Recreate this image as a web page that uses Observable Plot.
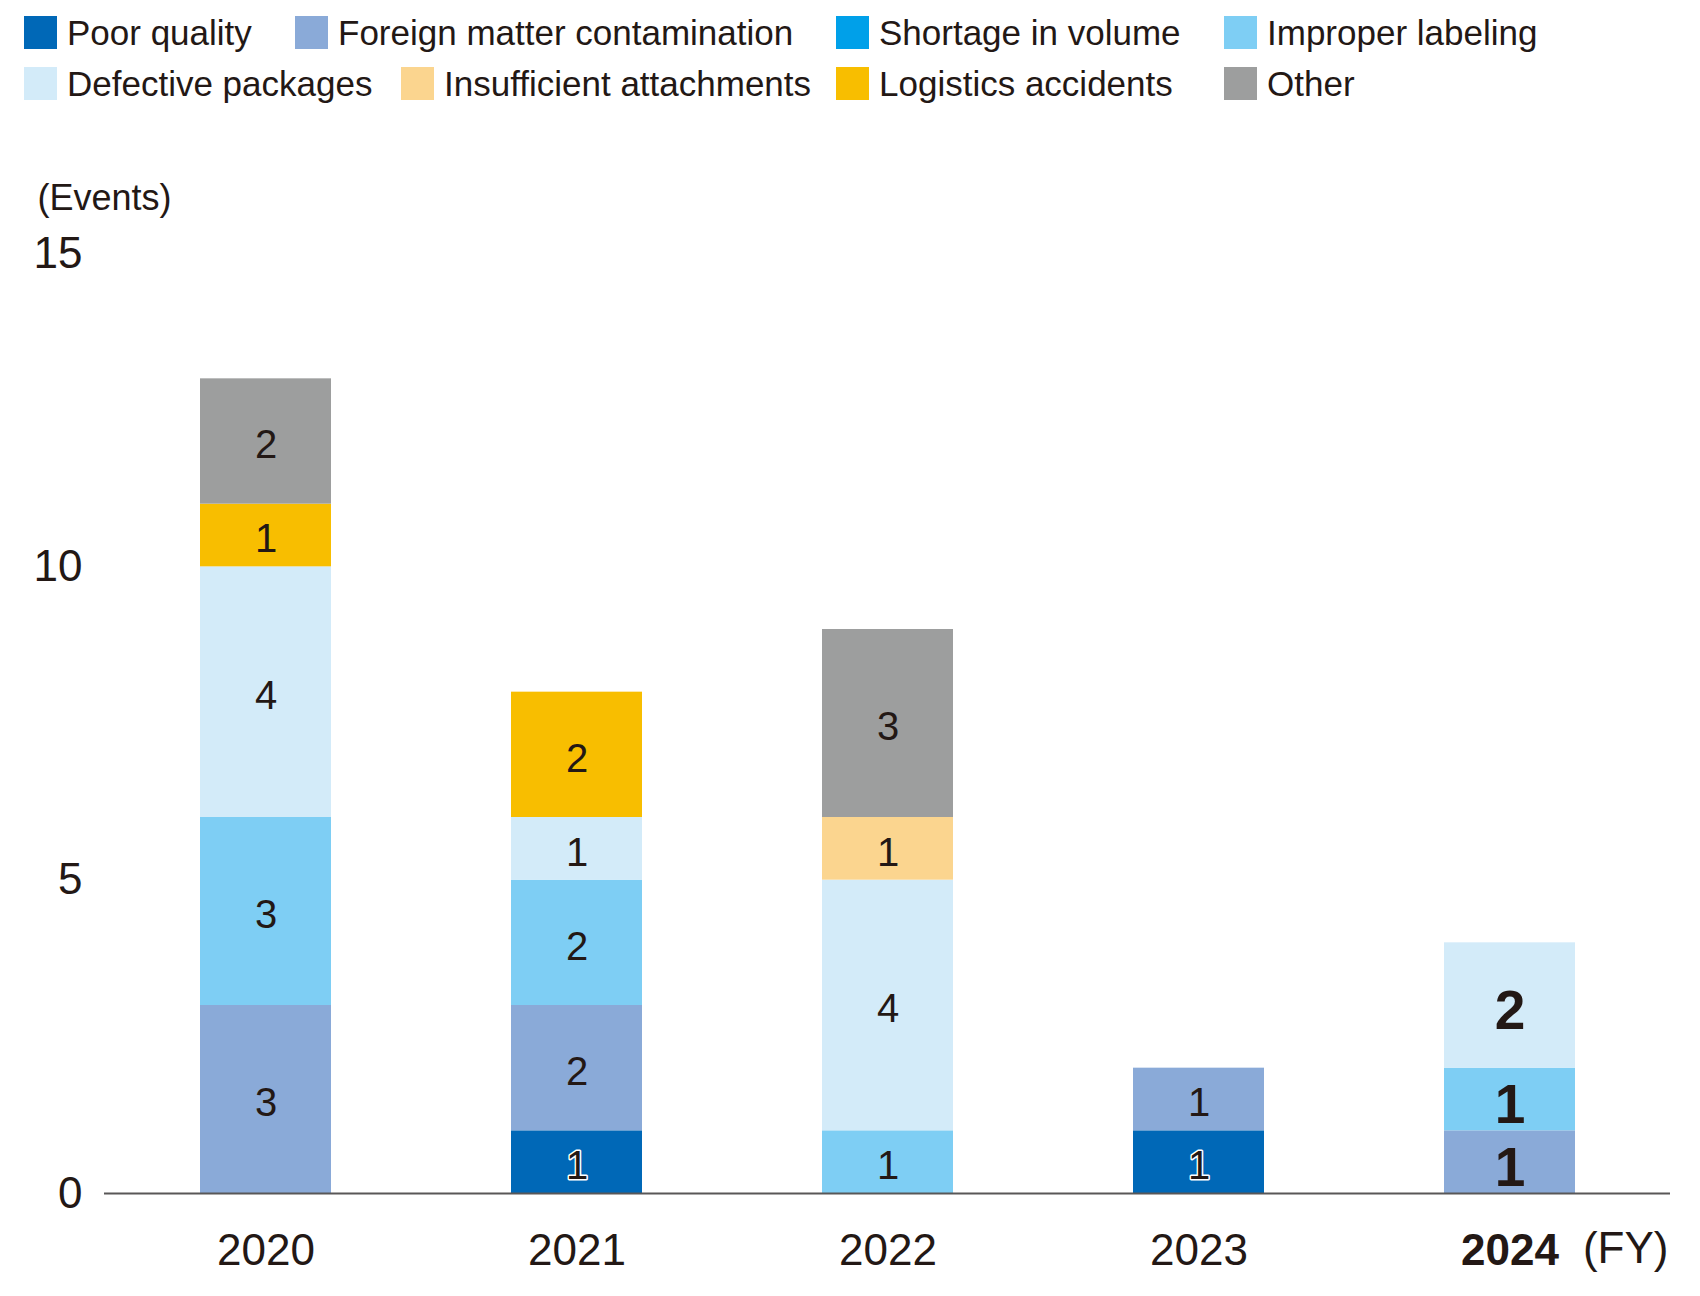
<!DOCTYPE html>
<html>
<head>
<meta charset="utf-8">
<script src="https://cdn.jsdelivr.net/npm/d3@7"></script>
<script src="https://cdn.jsdelivr.net/npm/@observablehq/plot@0.6"></script>
<style>
  html, body { margin: 0; padding: 0; background: #fff; }
  body { width: 1700px; height: 1296px; position: relative; overflow: hidden;
         font-family: "Liberation Sans", Arial, Helvetica, sans-serif; color: #231815; }
  #legend { position: absolute; left: 0; top: 0; width: 1700px; height: 110px; }
  .item { position: absolute; display: flex; align-items: center; height: 33px; white-space: nowrap; }
  .sw { width: 33px; height: 33px; margin-right: 10px; flex: none; }
  .lab { font-size: 35px; line-height: 33px; }
  #chart { position: absolute; left: 0; top: 120px; }
</style>
</head>
<body>
<div id="legend"></div>
<div id="chart"></div>
<script>
// ---- data ----
const years = ["2020", "2021", "2022", "2023", "2024"];
const categories = [
  "Poor quality",
  "Foreign matter contamination",
  "Shortage in volume",
  "Improper labeling",
  "Defective packages",
  "Insufficient attachments",
  "Logistics accidents",
  "Other"
];
const poorQuality             = [0, 1, 0, 1, 0];
const foreignMatter           = [3, 2, 0, 1, 1];
const shortageInVolume        = [0, 0, 0, 0, 0];
const improperLabeling        = [3, 2, 1, 0, 1];
const defectivePackages       = [4, 1, 4, 0, 2];
const insufficientAttachments = [0, 0, 1, 0, 0];
const logisticsAccidents      = [1, 2, 0, 0, 0];
const other                   = [2, 0, 3, 0, 0];
const yTicks = [0, 5, 10, 15];
const highlightYear = "2024";

// ---- styling ----
const colors = ["#0068b7", "#8aaad8", "#00a0e9", "#7ecef4", "#d3ebf9", "#fbd58f", "#f8be00", "#9d9e9e"];
// legend layout: [row, left px] per category
const legendLayout = [[0, 24], [0, 295], [0, 836], [0, 1224], [1, 24], [1, 401], [1, 836], [1, 1224]];
const legendRowTop = [16, 67];

const series = [poorQuality, foreignMatter, shortageInVolume, improperLabeling,
                defectivePackages, insufficientAttachments, logisticsAccidents, other];

// build tidy rows with stacked midpoints
const rows = [];
years.forEach((yr, i) => {
  let base = 0;
  categories.forEach((cat, c) => {
    const v = series[c][i];
    if (v > 0) {
      rows.push({year: yr, cat, value: v, mid: base + v / 2});
      base += v;
    }
  });
});

// legend
const legend = document.getElementById("legend");
categories.forEach((cat, c) => {
  const [r, left] = legendLayout[c];
  const it = document.createElement("div");
  it.className = "item";
  it.style.left = left + "px";
  it.style.top = legendRowTop[r] + "px";
  const sw = document.createElement("div");
  sw.className = "sw";
  sw.style.background = colors[c];
  const lab = document.createElement("span");
  lab.className = "lab";
  lab.textContent = cat;
  it.appendChild(sw); it.appendChild(lab);
  legend.appendChild(it);
});

const font = "'Liberation Sans', Arial, Helvetica, sans-serif";
const ink = "#231815";

const normalRows = rows.filter(d => d.year !== highlightYear && d.cat !== "Poor quality");
const haloRows = rows.filter(d => d.year !== highlightYear && d.cat === "Poor quality");
const boldRows = rows.filter(d => d.year === highlightYear);

const chart = Plot.plot({
  width: 1700,
  height: 1173,
  marginTop: 133,
  marginBottom: 100,
  marginLeft: 104,
  marginRight: 30,
  style: {fontFamily: font, fontSize: "44px", color: ink, background: "white", overflow: "visible"},
  x: {domain: years, paddingInner: 0.58, paddingOuter: 0.305, label: null},
  y: {domain: [0, 15], label: null},
  color: {domain: categories, range: colors},
  marks: [
    Plot.barY(rows, Plot.stackY({x: "year", y: "value", fill: "cat", order: categories})),
    Plot.ruleY([0], {stroke: "#595757", strokeWidth: 2}),
    Plot.axisX({ticks: years.filter(y => y !== highlightYear), tickSize: 0, tickPadding: 40, fontSize: 44, fill: ink}),
    Plot.axisX({ticks: [highlightYear], tickSize: 0, tickPadding: 40, fontSize: 44, fontWeight: "bold", fill: ink}),
    Plot.axisY({ticks: yTicks, tickSize: 0, tickPadding: 22, fontSize: 44, label: null, fill: ink}),
    Plot.text(normalRows, {x: "year", y: "mid", text: d => String(d.value), fontSize: 40, fill: ink, dy: 4}),
    Plot.text(haloRows, {x: "year", y: "mid", text: d => String(d.value), fontSize: 40, fill: ink, stroke: "white", strokeWidth: 3, dy: 4}),
    Plot.text(boldRows, {x: "year", y: "mid", text: d => String(d.value), fontSize: 55, fontWeight: "bold", fill: ink, dy: 6}),
    Plot.text(["(Events)"], {frameAnchor: "top-left", text: d => d, textAnchor: "start", lineAnchor: "middle", dx: -67, dy: -55, fontSize: 36, fill: ink}),
    Plot.text(["(FY)"], {frameAnchor: "bottom-right", text: d => d, textAnchor: "end", lineAnchor: "middle", dx: -2, dy: 55, fontSize: 44, fill: ink})
  ]
});
document.getElementById("chart").appendChild(chart);
</script>
</body>
</html>
